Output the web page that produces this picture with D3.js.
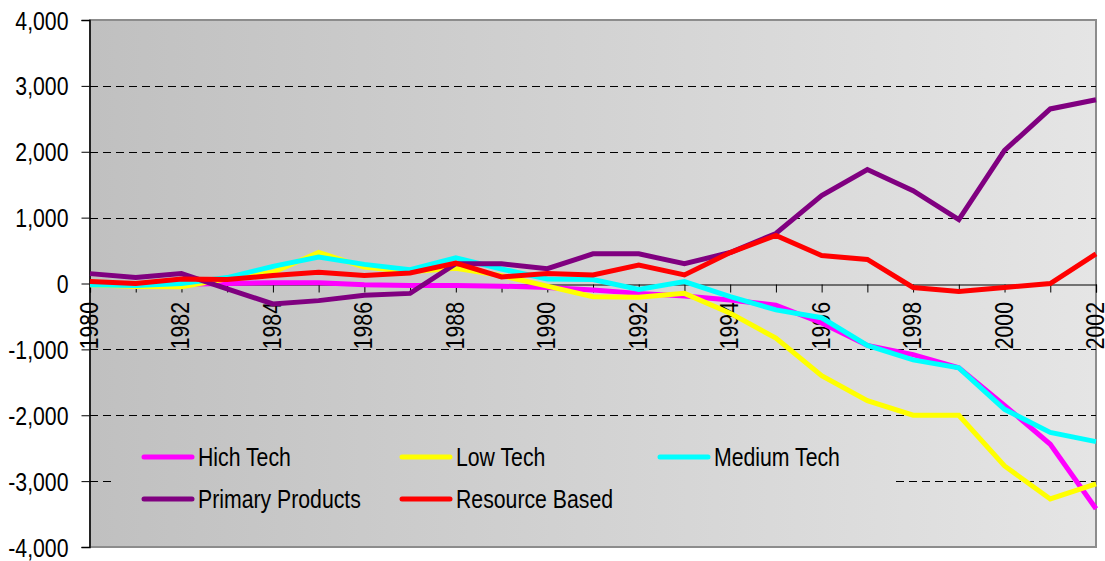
<!DOCTYPE html>
<html>
<head>
<meta charset="utf-8">
<script src="https://cdn.jsdelivr.net/npm/d3@7"></script>
<style>
  html, body { margin: 0; padding: 0; background: #ffffff; }
  svg { display: block; }
  text { font-family: "Liberation Sans", Arial, sans-serif; fill: #000; }
</style>
</head>
<body>
<svg id="chart" width="1105" height="561"></svg>
<script>
const years = d3.range(1980, 2003);
const seriesNames = ["Hich Tech", "Low Tech", "Medium Tech", "Primary Products", "Resource Based"];
const seriesColors = ["#ff00ff", "#ffff00", "#00ffff", "#800080", "#ff0000"];
const hichTech = [-10, -20, -10, 0, 10, 10, -20, -30, -30, -40, -60, -100, -150, -190, -250, -330, -600, -940, -1080, -1280, -1850, -2440, -3420];
const lowTech = [-20, -45, -50, 70, 170, 470, 250, 180, 230, 120, -40, -200, -210, -150, -450, -830, -1400, -1780, -2000, -2000, -2770, -3270, -3040];
const mediumTech = [-20, -30, 0, 90, 260, 400, 290, 210, 390, 220, 70, 60, -90, 30, -200, -400, -520, -940, -1160, -1280, -1910, -2260, -2400];
const primaryProducts = [150, 90, 150, -80, -310, -260, -180, -150, 300, 300, 225, 450, 450, 300, 470, 760, 1335, 1730, 1410, 970, 2020, 2650, 2790];
const resourceBased = [30, 0, 70, 60, 120, 170, 120, 160, 310, 100, 150, 130, 280, 130, 470, 730, 425, 365, -60, -120, -60, 0, 450];
const yTicks = [-4000, -3000, -2000, -1000, 0, 1000, 2000, 3000, 4000];
const xLabelYears = [1980, 1982, 1984, 1986, 1988, 1990, 1992, 1994, 1996, 1998, 2000, 2002];

const seriesValues = [hichTech, lowTech, mediumTech, primaryProducts, resourceBased];

const svg = d3.select("#chart");
const L = 90, R = 1096, T = 20, B = 547;
const x = d3.scaleLinear().domain([1980, 2002]).range([L, R]);
const y = d3.scaleLinear().domain([-4000, 4000]).range([B, T]);
const fmt = v => d3.format(",")(v).replace("\u2212", "-");
const SX = 0.85;

// background gradient
const defs = svg.append("defs");
const grad = defs.append("linearGradient").attr("id", "bg")
  .attr("gradientUnits", "userSpaceOnUse")
  .attr("x1", L).attr("x2", R).attr("y1", 0).attr("y2", 0);
grad.append("stop").attr("offset", "0%").attr("stop-color", "#c0c0c0");
grad.append("stop").attr("offset", "100%").attr("stop-color", "#e5e5e5");

svg.append("rect").attr("x", L).attr("y", T).attr("width", R - L).attr("height", B - T)
  .attr("fill", "url(#bg)").attr("stroke", "#8c8c8c").attr("stroke-width", 2);

// gridlines
svg.append("g").selectAll("line")
  .data(yTicks.filter(v => v !== 0 && Math.abs(v) !== 4000))
  .join("line")
  .attr("x1", L).attr("x2", R)
  .attr("y1", d => Math.round(y(d)) + 0.5).attr("y2", d => Math.round(y(d)) + 0.5)
  .attr("stroke", "#000").attr("stroke-width", 1).attr("stroke-dasharray", "8,5");

// y axis
const yAxis = svg.append("g").attr("transform", `translate(${L - 0.5},0)`)
  .call(d3.axisLeft(y).tickValues(yTicks).tickFormat(fmt).tickSizeOuter(0).tickSize(8).tickPadding(13));
yAxis.select(".domain").attr("stroke", "#000").attr("stroke-width", 1.5);
yAxis.selectAll(".tick line").attr("stroke", "#000");
yAxis.selectAll(".tick text").each(function() {
  const t = d3.select(this);
  const tx = +t.attr("x");
  t.attr("x", null).attr("dy", null).attr("y", null)
   .attr("transform", `translate(${tx},9) scale(${SX},1)`)
   .style("font-size", "25px").style("font-family", '"Liberation Sans", Arial, sans-serif')
   .attr("text-anchor", "end").attr("fill", "#000");
});

// x axis at zero
const x0 = Math.round(y(0)) + 0.5;
const xAxis = svg.append("g").attr("transform", `translate(0,${x0})`)
  .call(d3.axisBottom(x).tickValues(years).tickFormat("").tickSizeOuter(0).tickSize(8));
xAxis.select(".domain").attr("stroke", "#000").attr("stroke-width", 1.2);
xAxis.selectAll(".tick line").attr("stroke", "#000");

svg.append("g").selectAll("text").data(xLabelYears).join("text")
  .attr("transform", d => `translate(${x(d) + 8},302) rotate(-90) scale(${SX},1)`)
  .attr("text-anchor", "end")
  .style("font-size", "25px")
  .text(d => d);

// lines
const line = d3.line().x((d, i) => x(years[i])).y(d => y(d));
svg.append("g").selectAll("path").data(seriesValues).join("path")
  .attr("d", d => line(d))
  .attr("fill", "none")
  .attr("stroke", (d, i) => seriesColors[i])
  .attr("stroke-width", 5)
  .attr("stroke-linejoin", "miter");

// legend
svg.append("rect").attr("x", 114).attr("y", 428).attr("width", 778).attr("height", 100)
  .attr("fill", "url(#bg)");
const legendPos = [
  {lx: 142, ly: 457}, {lx: 400, ly: 457}, {lx: 658, ly: 457},
  {lx: 142, ly: 499}, {lx: 400, ly: 499}
];
const lg = svg.append("g").selectAll("g").data(seriesNames).join("g")
  .attr("transform", (d, i) => `translate(${legendPos[i].lx},${legendPos[i].ly})`);
lg.append("line").attr("x1", 2).attr("x2", 50).attr("y1", 0).attr("y2", 0)
  .attr("stroke", (d, i) => seriesColors[i]).attr("stroke-width", 5).attr("stroke-linecap", "round");
lg.append("text").attr("transform", `translate(56,9) scale(${SX},1)`)
  .style("font-size", "25px").text(d => d);
</script>
</body>
</html>
